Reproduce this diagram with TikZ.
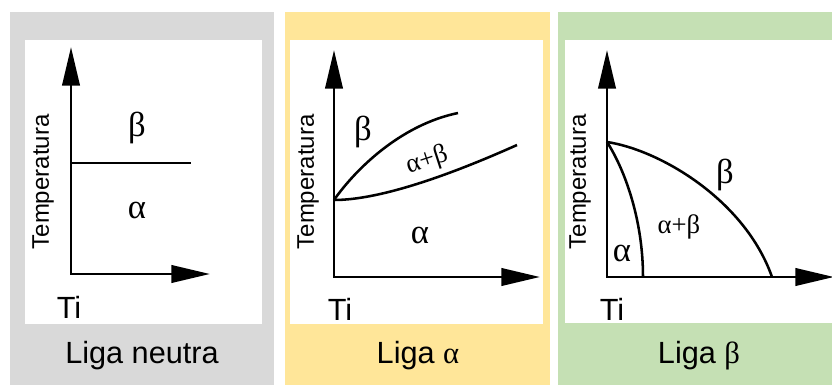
\documentclass[tikz,border=0pt]{standalone}
\usepackage{fontspec}
\setmainfont{Liberation Sans}
\newfontfamily\grk{Liberation Serif}
\usepackage{xcolor}
\usetikzlibrary{arrows.meta,positioning}

\definecolor{neutgray}{HTML}{D9D9D9}
\definecolor{alphayellow}{HTML}{FFE699}
\definecolor{betagreen}{HTML}{C5E0B4}

\begin{document}
\begin{tikzpicture}[
  x=0.75pt, y=-0.75pt,
  axis/.style={line width=2.2pt, {Triangle[length=29pt,width=13pt]}-{Triangle[length=29pt,width=13pt]}},
  bound/.style={line width=1.9pt},
  templbl/.style={rotate=90, font=\fontsize{18}{20}\selectfont, inner sep=0pt},
  tilbl/.style={anchor=base, font=\fontsize{23}{26}\selectfont, inner sep=0pt},
  title/.style={anchor=base, font=\fontsize{23}{26}\selectfont, inner sep=0pt},
  phase/.style={font=\grk\fontsize{26}{28}\selectfont, inner sep=0pt},
  mixed/.style={font=\grk\fontsize{20}{22}\selectfont, inner sep=0pt}
]
\useasboundingbox (0,0) rectangle (832,385);

% panels
\fill[neutgray] (10,12) rectangle (274,385);
\fill[white] (25,40) rectangle (262,324);
\fill[alphayellow] (285,12) rectangle (550,385);
\fill[white] (290,40) rectangle (543,324);
\fill[betagreen] (558,12) rectangle (832,385);
\fill[white] (565,40) rectangle (832,323);

% neutral alloy
\coordinate (t1) at (71,47);
\coordinate (o1) at (71,274);
\coordinate (r1) at (210,274);
\coordinate (m1) at (71,163);
\coordinate (e1) at (191,163);
\draw[axis] (t1) -- (o1) -- (r1);
\draw[bound] (m1) -- (e1);
\node[phase] (beta1) at (137,128) {β};
\node[phase] (alpha1) at (137,210) {α};
\node[templbl] (temp1) at (43,182) {Temperatura};
\node[tilbl] (ti1) at (69,318) {Ti};
\node[title] (liga1) at (142,363) {Liga neutra};

% alpha alloy
\coordinate (t2) at (334,50);
\coordinate (o2) at (334,277);
\coordinate (r2) at (540,277);
\coordinate (m2) at (334,200);
\coordinate (a2) at (458,113);
\coordinate (b2) at (517,145);
\draw[axis] (t2) -- (o2) -- (r2);
\draw[bound] (m2) .. controls (355,170) and (400,125) .. (a2);
\draw[bound] (m2) .. controls (380,200) and (450,175) .. (b2);
\node[phase] (beta2) at (363,132) {β};
\node[mixed, rotate=18] (mix2) at (427,161) {α+β};
\node[phase] (alpha2) at (420,235) {α};
\node[templbl] (temp2) at (308,182) {Temperatura};
\node[tilbl] (ti2) at (340,320) {Ti};
\node[title] (liga2) at (418,363) {Liga {\grk α}};

% beta alloy
\coordinate (t3) at (607,50);
\coordinate (o3) at (607,277);
\coordinate (r3) at (834,277);
\coordinate (m3) at (607,142);
\coordinate (a3) at (772,277);
\coordinate (b3) at (643,277);
\draw[axis] (t3) -- (o3) -- (r3);
\draw[bound] (m3) .. controls (660,150) and (745,200) .. (a3);
\draw[bound] (m3) .. controls (625,170) and (643,220) .. (b3);
\node[phase] (beta3) at (725,175) {β};
\node[mixed] (mix3) at (679,227) {α+β};
\node[phase] (alpha3) at (622,253) {α};
\node[templbl] (temp3) at (580,182) {Temperatura};
\node[tilbl] (ti3) at (612,320) {Ti};
\node[title] (liga3) at (699,363) {Liga {\grk β}};
\end{tikzpicture}
\end{document}
